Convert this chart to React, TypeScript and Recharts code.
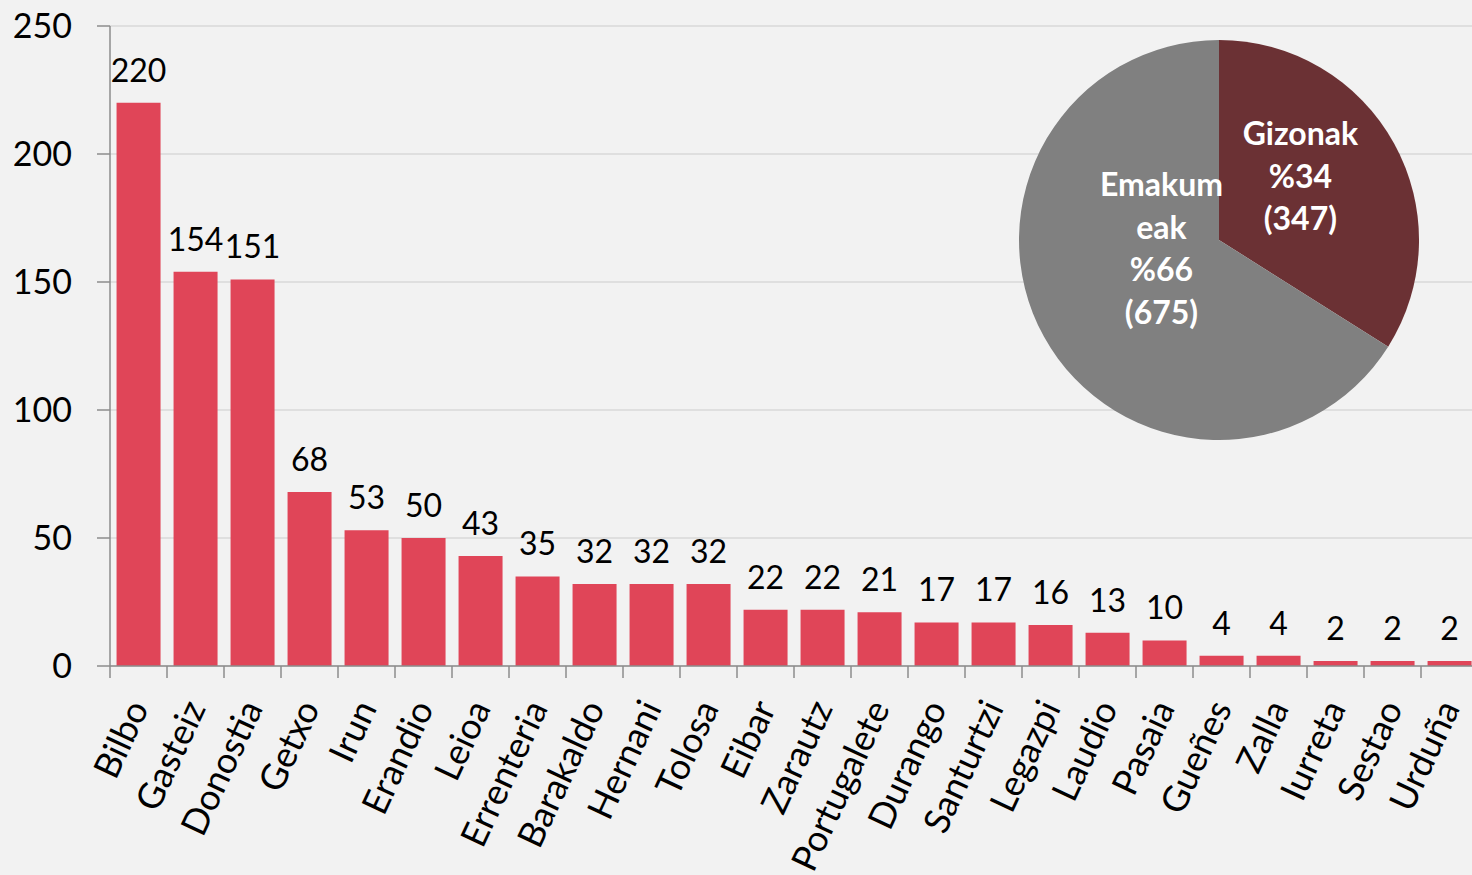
import React from 'react';
import { BarChart, Bar, XAxis, YAxis, CartesianGrid, LabelList, PieChart, Pie, Cell } from 'recharts';

const municipalities = ['Bilbo', 'Gasteiz', 'Donostia', 'Getxo', 'Irun', 'Erandio', 'Leioa', 'Errenteria', 'Barakaldo', 'Hernani', 'Tolosa', 'Eibar', 'Zarautz', 'Portugalete', 'Durango', 'Santurtzi', 'Legazpi', 'Laudio', 'Pasaia', 'Gueñes', 'Zalla', 'Iurreta', 'Sestao', 'Urduña'];
const counts = [220, 154, 151, 68, 53, 50, 43, 35, 32, 32, 32, 22, 22, 21, 17, 17, 16, 13, 10, 4, 4, 2, 2, 2];
const yTicks = [0, 50, 100, 150, 200, 250];

const genderNames = ['Gizonak', 'Emakumeak'];
const genderCounts = [347, 675];
const genderLabelLines = [['Gizonak'], ['Emakum', 'eak']];

const FONT = 'Lato, "Open Sans", sans-serif';
const BAR_COLOR = '#E04558';
const PIE_COLORS = ['#6B3134', '#808080'];
const AXIS_COLOR = '#8C8C8C';
const GRID_COLOR = '#D9D9D9';

const CHART_W = 1480;
const CHART_H = 875;
const MARGIN = { top: 26, right: 2, bottom: 0, left: 0 };
const Y_AXIS_W = 110;
const X_AXIS_H = 209;
const band = (CHART_W - MARGIN.left - MARGIN.right - Y_AXIS_W) / municipalities.length;
const X_LABEL_ANGLE = -65;

// label placement inside pie (polar, relative to outer radius)
const pieLabelPlacement = [
  { angle: 38.5, rFrac: 0.52 },
  { angle: 187.4, rFrac: 0.29 },
];

const barData = municipalities.map((name, i) => ({ name, value: counts[i] }));
const total = genderCounts.reduce((a, b) => a + b, 0);
const pieData = genderNames.map((name, i) => ({ name, value: genderCounts[i] }));

const XTick = (props: any) => {
  const { x, y, payload } = props;
  const lx = x - band / 2;
  const px = x + 11;
  const py = y + 42;
  return (
    <g>
      <line x1={lx} y1={y} x2={lx} y2={y + 12} stroke={AXIS_COLOR} strokeWidth={1.5} />
      <text
        x={px}
        y={py}
        textAnchor="end"
        transform={`rotate(${X_LABEL_ANGLE}, ${px}, ${py})`}
        fontFamily={FONT}
        fontSize={36}
        fill="#000"
      >
        {payload.value}
      </text>
    </g>
  );
};

const renderPieLabel = (props: any) => {
  const { cx, cy, outerRadius, index, value } = props;
  const place = pieLabelPlacement[index];
  const rad = (place.angle * Math.PI) / 180;
  const r = outerRadius * place.rFrac;
  const tx = cx + r * Math.cos(rad);
  const ty = cy - r * Math.sin(rad);
  const lines = [...genderLabelLines[index], `%${Math.round((value / total) * 100)}`, `(${value})`];
  const lh = 42.5;
  return (
    <g>
      {lines.map((ln, i) => (
        <text
          key={i}
          x={tx}
          y={ty + (i - (lines.length - 1) / 2) * lh}
          textAnchor="middle"
          dominantBaseline="central"
          fontFamily={FONT}
          fontWeight={700}
          fontSize={32}
          fill="#fff"
        >
          {ln}
        </text>
      ))}
    </g>
  );
};

export default function App() {
  return (
    <div style={{ position: 'absolute', left: 0, top: 0, width: 1472, height: 875, overflow: 'hidden', background: '#F2F2F2' }}>
      <div style={{ position: 'absolute', left: 0, top: 0 }}>
        <BarChart width={CHART_W} height={CHART_H} data={barData} margin={MARGIN} barCategoryGap="11.5%">
          <CartesianGrid horizontal vertical={false} stroke={GRID_COLOR} strokeWidth={1.5} />
          <XAxis
            dataKey="name"
            interval={0}
            height={X_AXIS_H}
            tickLine={false}
            tickSize={0}
            tickMargin={0}
            axisLine={{ stroke: AXIS_COLOR, strokeWidth: 1.5 }}
            tick={<XTick />}
          />
          <YAxis
            domain={[0, 250]}
            ticks={yTicks}
            interval={0}
            width={Y_AXIS_W}
            tickSize={13}
            tickMargin={25}
            axisLine={{ stroke: AXIS_COLOR, strokeWidth: 1.5 }}
            tickLine={{ stroke: AXIS_COLOR, strokeWidth: 1.5 }}
            tick={{ fontFamily: FONT, fontSize: 34, fill: '#000' }}
          />
          <Bar dataKey="value" fill={BAR_COLOR} isAnimationActive={false}>
            <LabelList dataKey="value" position="top" offset={21} fill="#000" fontFamily={FONT} fontSize={32} />
          </Bar>
        </BarChart>
      </div>
      <div style={{ position: 'absolute', left: 1019, top: 40 }}>
        <PieChart width={400} height={400} margin={{ top: 0, right: 0, bottom: 0, left: 0 }}>
          <Pie
            data={pieData}
            dataKey="value"
            cx={200}
            cy={200}
            outerRadius={200}
            startAngle={90}
            endAngle={-270}
            stroke="none"
            label={renderPieLabel}
            labelLine={false}
            isAnimationActive={false}
          >
            {pieData.map((d, i) => (
              <Cell key={d.name} fill={PIE_COLORS[i]} />
            ))}
          </Pie>
        </PieChart>
      </div>
    </div>
  );
}
